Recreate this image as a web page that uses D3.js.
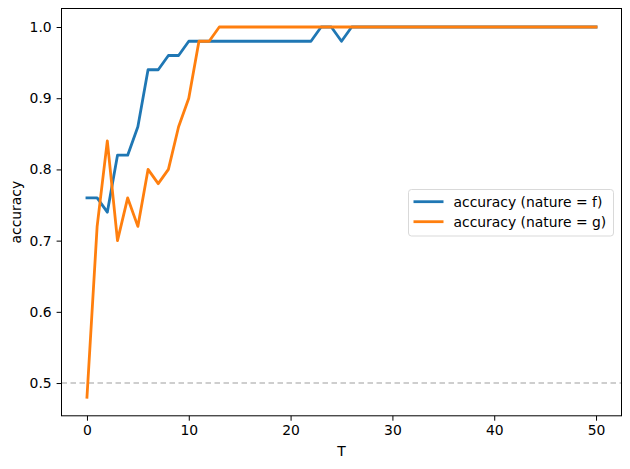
<!DOCTYPE html>
<html><head><meta charset="utf-8">
<script src="https://cdn.jsdelivr.net/npm/d3@7"></script>
<style>body{margin:0;background:#fff}svg{display:block}</style>
</head><body>
<svg id="c" width="630" height="469"></svg>
<script>
const T = d3.range(0, 51);
const accF = [0.76,0.76,0.74,0.82,0.82,0.86,0.94,0.94,0.96,0.96,0.98,0.98,0.98,0.98,0.98,0.98,0.98,0.98,0.98,0.98,0.98,0.98,0.98,1.0,1.0,0.98,1.0,1.0,1.0,1.0,1.0,1.0,1.0,1.0,1.0,1.0,1.0,1.0,1.0,1.0,1.0,1.0,1.0,1.0,1.0,1.0,1.0,1.0,1.0,1.0,1.0];
const accG = [0.48,0.72,0.84,0.70,0.76,0.72,0.80,0.78,0.80,0.86,0.90,0.98,0.98,1.0,1.0,1.0,1.0,1.0,1.0,1.0,1.0,1.0,1.0,1.0,1.0,1.0,1.0,1.0,1.0,1.0,1.0,1.0,1.0,1.0,1.0,1.0,1.0,1.0,1.0,1.0,1.0,1.0,1.0,1.0,1.0,1.0,1.0,1.0,1.0,1.0,1.0];
const seriesNames = ["accuracy (nature = f)", "accuracy (nature = g)"];
const colors = ["#1f77b4", "#ff7f0e"];
const xTicks = [0,10,20,30,40,50];
const yTicks = [0.5,0.6,0.7,0.8,0.9,1.0];
const baseline = 0.5;

const L = 61.5, R = 621.5, Tp = 8.5, B = 415.8;
const svg = d3.select("#c");
const font = "DejaVu Sans, sans-serif";
const x = d3.scaleLinear().domain([-2.5, 52.5]).range([L, R]);
const y = d3.scaleLinear().domain([0.454, 1.026]).range([B, Tp]);

// baseline
svg.append("line").attr("x1", L).attr("x2", R).attr("y1", y(baseline)).attr("y2", y(baseline))
  .attr("stroke", "#bfbfbf").attr("stroke-width", 1.5).attr("stroke-dasharray", "5.5,3.5");

const line = d3.line().x((d,i)=>x(T[i])).y(d=>y(d));
[accF, accG].forEach((s,k)=>{
  svg.append("path").datum(s).attr("d", line).attr("fill","none")
    .attr("stroke", colors[k]).attr("stroke-width", 2.8).attr("stroke-linejoin","round").attr("stroke-linecap","square");
});

// axes
const xa = svg.append("g").attr("transform", `translate(0,${B})`)
  .call(d3.axisBottom(x).tickValues(xTicks).tickFormat(d3.format("d")).tickSize(4.9).tickPadding(4.9));
const ya = svg.append("g").attr("transform", `translate(${L},0)`)
  .call(d3.axisLeft(y).tickValues(yTicks).tickFormat(d3.format(".1f")).tickSize(4.9).tickPadding(4.9));
[xa, ya].forEach(g=>{
  g.select(".domain").remove();
  g.selectAll("line").attr("stroke","#000").attr("stroke-width",1);
  g.selectAll("text").attr("font-family", font).attr("font-size", "13.9px").attr("fill","#000");
});
svg.append("rect").attr("x", L).attr("y", Tp).attr("width", R-L).attr("height", B-Tp)
  .attr("fill","none").attr("stroke","#000").attr("stroke-width",1);

svg.append("text").attr("x", (L+R)/2).attr("y", 456).attr("text-anchor","middle")
  .attr("font-family", font).attr("font-size","13.9px").text("T");
svg.append("text").attr("transform", `translate(21,${(Tp+B)/2}) rotate(-90)`).attr("text-anchor","middle")
  .attr("font-family", font).attr("font-size","13.9px").text("accuracy");

// legend
const lg = svg.append("g");
lg.append("rect").attr("x", 408.5).attr("y", 189.5).attr("width", 205).attr("height", 46.5).attr("rx", 3)
  .attr("fill","#fff").attr("fill-opacity",0.8).attr("stroke","#d9d9d9").attr("stroke-width",1);
seriesNames.forEach((n,k)=>{
  const yy = 201.7 + k*20;
  lg.append("line").attr("x1", 413.5).attr("x2", 443.5).attr("y1", yy).attr("y2", yy)
    .attr("stroke", colors[k]).attr("stroke-width", 2.8);
  lg.append("text").attr("x", 453.5).attr("y", yy).attr("dy","0.35em")
    .attr("font-family", font).attr("font-size","13.9px").text(n);
});
</script>
</body></html>
